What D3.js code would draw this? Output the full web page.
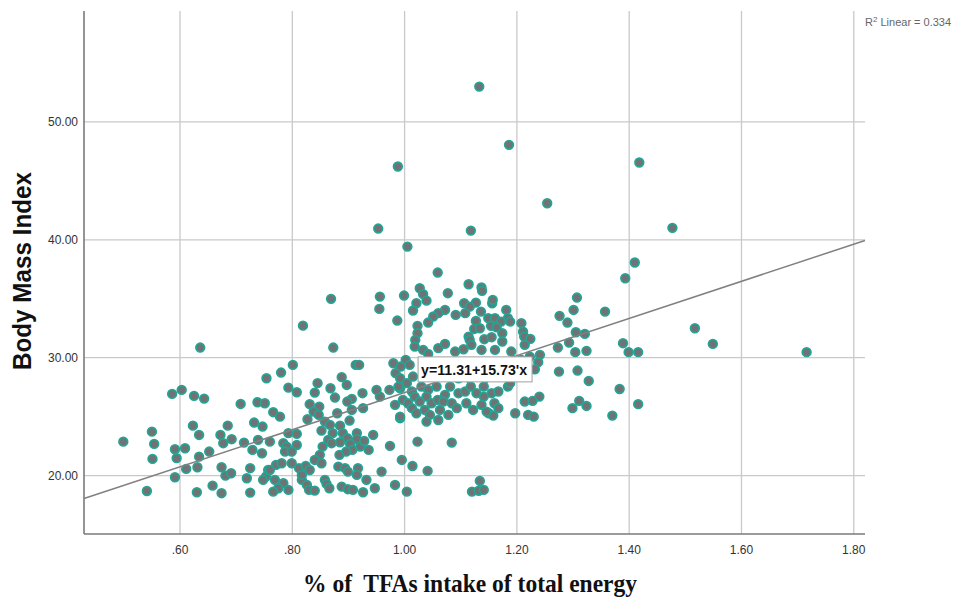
<!DOCTYPE html>
<html><head><meta charset="utf-8">
<script src="https://cdn.jsdelivr.net/npm/d3@7/dist/d3.min.js"></script>
<style>body{margin:0;background:#fff;}svg{display:block;}</style>
</head><body>
<svg id="chart" width="963" height="599"></svg>
<script>
const xTicks = [0.6, 0.8, 1.0, 1.2, 1.4, 1.6, 1.8];
const xTickLabels = [".60", ".80", "1.00", "1.20", "1.40", "1.60", "1.80"];
const yTicks = [20, 30, 40, 50];
const yTickLabels = ["20.00", "30.00", "40.00", "50.00"];
const intercept = 11.31, slope = 15.73;
const equationText = "y=11.31+15.73'x";
const r2Text = " Linear = 0.334";
const xTitle = "% of  TFAs intake of total energy";
const yTitle = "Body Mass Index";

// % TFA of total energy
const tfa = [
0.499,0.550,0.554,0.551,0.541,0.586,0.603,0.625,0.643,0.591,0.594,0.609,0.591,0.611,0.631,0.634,0.652,0.623,0.634,0.630,0.658,0.674,0.674,0.681,0.691,0.672,0.677,0.692,0.685,0.708,0.714,0.725,0.719,0.725,0.732,0.747,0.738,0.751,0.754,0.729,0.746,0.739,0.753,0.757,0.636,
0.869,0.819,0.873,0.956,0.955,0.999,0.987,0.801,0.780,0.793,0.808,0.845,0.840,0.868,0.876,0.888,0.897,0.913,0.919,0.925,0.906,0.898,0.831,0.848,0.838,0.766,0.778,0.827,0.847,0.880,0.906,0.926,0.902,0.858,0.867,0.885,0.852,0.872,0.890,0.898,0.915,0.915,0.944,0.956,0.973,0.950,0.983,0.992,0.992,0.974,0.995,1.014,0.980,1.002,0.760,0.793,0.808,0.784,0.790,0.808,0.787,0.799,0.854,0.864,0.870,0.885,0.903,0.907,0.921,0.928,0.936,0.884,0.896,0.849,0.840,0.852,0.771,0.781,0.799,0.760,0.812,0.824,0.831,0.882,0.894,0.917,0.899,0.915,0.959,0.748,0.769,0.784,0.817,0.826,0.817,0.775,0.766,0.793,0.830,0.840,0.858,0.861,0.866,0.888,0.899,0.908,0.926,0.932,0.947,0.983,1.004,
1.059,1.027,1.033,1.039,1.021,1.015,1.077,1.114,1.137,1.138,1.156,1.106,1.127,1.116,1.108,1.072,1.060,1.051,1.042,1.091,1.136,1.149,1.161,1.181,1.184,1.172,1.127,1.124,1.134,1.154,1.164,1.188,1.208,1.211,1.023,1.023,1.019,1.018,1.114,1.116,1.142,1.155,1.174,1.174,1.213,1.214,1.060,1.072,1.119,1.033,1.042,1.090,1.105,1.137,1.161,1.190,1.009,0.993,1.208,0.984,0.992,1.015,1.045,1.066,1.096,1.116,1.143,1.188,0.989,1.004,1.013,1.030,1.042,1.057,1.072,1.081,1.096,1.108,1.118,1.128,1.141,1.155,1.167,1.184,0.997,1.006,1.018,1.027,1.039,1.048,1.059,1.069,1.084,1.110,1.137,1.160,1.013,1.021,1.036,1.045,1.063,1.078,1.093,1.122,1.150,0.992,1.039,1.060,1.158,1.197,1.220,1.214,1.023,1.084,1.041,1.120,1.132,1.141,1.134,1.146,1.141,
0.988,0.953,1.005,1.118,1.133,1.186,1.418,1.254,1.477,1.410,1.393,1.307,1.157,
1.357,1.276,1.290,1.301,1.517,1.549,1.716,1.389,1.399,1.416,1.305,1.321,1.293,1.273,1.304,1.324,1.275,1.308,1.328,1.383,1.416,1.370,1.299,1.311,1.324,1.240,1.228,1.230,1.241,1.238,1.232,1.223,1.224,1.188,1.167
];
// Body Mass Index
const bmi = [
22.88,23.73,22.69,21.42,18.70,26.93,27.27,26.76,26.53,22.24,21.48,22.32,19.86,20.57,20.71,21.61,22.04,24.24,23.45,18.59,19.15,18.51,20.71,20.00,20.20,23.45,22.75,23.09,24.24,26.08,22.80,20.63,19.78,18.56,24.50,24.16,26.22,26.14,28.26,22.18,21.90,23.03,19.92,20.48,30.86,
34.99,32.72,30.86,35.18,34.14,35.27,33.15,29.39,28.74,27.46,27.07,27.84,27.04,27.41,26.62,28.35,27.69,29.39,29.39,26.99,26.51,26.28,26.06,25.85,25.43,25.38,25.00,24.78,25.15,25.29,25.57,25.72,24.67,24.58,24.30,24.24,23.82,23.60,23.60,23.17,23.60,23.09,23.45,26.70,27.27,27.27,26.00,27.41,24.87,22.52,21.33,20.82,29.53,29.81,22.88,23.60,23.54,22.75,22.46,22.60,22.04,22.04,22.46,23.03,22.75,22.83,22.69,22.18,22.46,22.94,22.18,21.76,22.04,21.76,21.33,21.05,20.91,21.05,21.05,20.48,20.63,20.82,20.48,20.76,20.63,20.63,20.34,20.06,20.34,19.64,19.64,19.36,19.64,19.21,20.06,18.93,18.64,18.79,18.79,18.73,19.64,19.30,18.93,19.07,18.85,18.79,18.59,19.64,18.93,19.21,18.64,
37.22,35.89,35.39,34.84,34.62,34.00,35.47,36.23,35.95,35.67,34.62,34.62,34.67,34.33,33.78,34.05,33.78,33.49,32.98,33.63,33.91,33.35,33.35,34.05,33.35,33.06,33.12,32.44,32.50,32.70,32.58,33.06,32.93,32.21,32.70,32.08,31.51,30.94,31.79,31.51,31.57,31.74,32.08,31.37,31.79,31.09,30.81,31.17,31.09,30.66,30.32,30.52,30.72,30.66,30.66,30.52,29.39,29.25,29.81,28.69,28.26,28.40,28.40,28.54,28.26,28.26,28.26,28.40,27.55,27.84,27.13,27.55,27.27,27.55,26.85,27.55,26.99,27.13,27.55,26.99,27.55,26.99,27.13,27.55,26.42,26.14,26.70,26.28,26.70,26.14,26.42,26.28,26.14,26.14,26.00,26.14,25.72,25.29,25.57,25.15,25.57,25.15,25.72,25.57,25.29,25.00,24.58,24.72,25.09,25.29,25.15,26.28,22.88,22.80,20.40,18.64,18.72,18.79,19.55,25.43,26.70,
46.21,40.95,39.42,40.78,52.99,48.05,46.55,43.10,41.01,38.07,36.74,35.10,34.90,
33.91,33.55,32.98,34.05,32.50,31.17,30.47,31.23,30.47,30.47,32.16,32.02,31.28,30.86,30.47,30.58,28.82,28.91,28.03,27.35,26.06,25.09,25.72,26.34,25.91,26.70,26.34,25.00,30.24,29.62,29.02,30.09,31.60,27.84,25.72
];

const svg = d3.select("#chart");
const L = 84, R = 865, T = 11, B = 534;
const x = d3.scaleLinear().domain([0.429, 1.82]).range([L, R]);
const y = d3.scaleLinear().domain([15.05, 59.4]).range([B, T]);

// grid
svg.append("g").selectAll("line").data(xTicks).join("line")
  .attr("x1", d => x(d)).attr("x2", d => x(d)).attr("y1", T).attr("y2", B)
  .attr("stroke", "#c9c9c9").attr("stroke-width", 1.3);
svg.append("g").selectAll("line").data(yTicks).join("line")
  .attr("x1", L).attr("x2", R).attr("y1", d => y(d)).attr("y2", d => y(d))
  .attr("stroke", "#c9c9c9").attr("stroke-width", 1.3);

// axes lines
svg.append("line").attr("x1", L).attr("x2", L).attr("y1", T).attr("y2", B)
  .attr("stroke", "#7a7a7a").attr("stroke-width", 1.6);
svg.append("line").attr("x1", L).attr("x2", R).attr("y1", B).attr("y2", B)
  .attr("stroke", "#7a7a7a").attr("stroke-width", 1.6);

// tick labels
svg.append("g").selectAll("text").data(xTicks).join("text")
  .attr("x", d => x(d)).attr("y", 554)
  .attr("text-anchor", "middle")
  .attr("font-family", "Liberation Sans, Arial, sans-serif").attr("font-size", 12)
  .attr("fill", "#333").text((d, i) => xTickLabels[i]);
svg.append("g").selectAll("text").data(yTicks).join("text")
  .attr("x", 78).attr("y", d => y(d) + 4)
  .attr("text-anchor", "end")
  .attr("font-family", "Liberation Sans, Arial, sans-serif").attr("font-size", 12)
  .attr("fill", "#333").text((d, i) => yTickLabels[i]);

// points
const pts = tfa.map((v, i) => [v, bmi[i]]);
svg.append("g").selectAll("circle").data(pts).join("circle")
  .attr("cx", d => x(d[0])).attr("cy", d => y(d[1])).attr("r", 4.3)
  .attr("fill", "#727272").attr("stroke", "#22a496").attr("stroke-width", 1.8);

// regression line
const xd = x.domain();
svg.append("line")
  .attr("x1", x(xd[0])).attr("y1", y(intercept + slope * xd[0]))
  .attr("x2", x(xd[1])).attr("y2", y(intercept + slope * xd[1]))
  .attr("stroke", "#808080").attr("stroke-width", 1.5);

// equation label
const bx = x(1.024), by = y(30.07), bw = 114, bh = 25;
svg.append("rect").attr("x", bx).attr("y", by).attr("width", bw).attr("height", bh)
  .attr("fill", "#fff").attr("stroke", "#a0a0a0").attr("stroke-width", 1);
svg.append("text").attr("x", bx + 3).attr("y", by + 18)
  .attr("font-family", "Liberation Sans, Arial, sans-serif").attr("font-size", 14)
  .attr("font-weight", "bold").attr("fill", "#111")
  .attr("textLength", 106).attr("lengthAdjust", "spacingAndGlyphs").text(equationText);

// R2 label
const r2 = svg.append("text").attr("x", 865).attr("y", 26)
  .attr("font-family", "Liberation Sans, Arial, sans-serif").attr("font-size", 11)
  .attr("fill", "#666");
r2.append("tspan").text("R");
r2.append("tspan").attr("dy", -4).attr("font-size", 8).text("2");
r2.append("tspan").attr("dy", 4).text(r2Text);

// axis titles
svg.append("text").attr("transform", "translate(31,271) rotate(-90)")
  .attr("text-anchor", "middle")
  .attr("font-family", "Liberation Sans, Arial, sans-serif").attr("font-size", 25)
  .attr("font-weight", "bold").attr("fill", "#111")
  .attr("textLength", 198).attr("lengthAdjust", "spacingAndGlyphs").text(yTitle);
svg.append("text").attr("x", 470).attr("y", 592)
  .attr("text-anchor", "middle").attr("xml:space", "preserve")
  .style("white-space", "pre")
  .attr("font-family", "Liberation Serif, Times New Roman, serif").attr("font-size", 26)
  .attr("font-weight", "bold").attr("fill", "#111")
  .attr("textLength", 334).attr("lengthAdjust", "spacingAndGlyphs").text(xTitle);
</script>
</body></html>
